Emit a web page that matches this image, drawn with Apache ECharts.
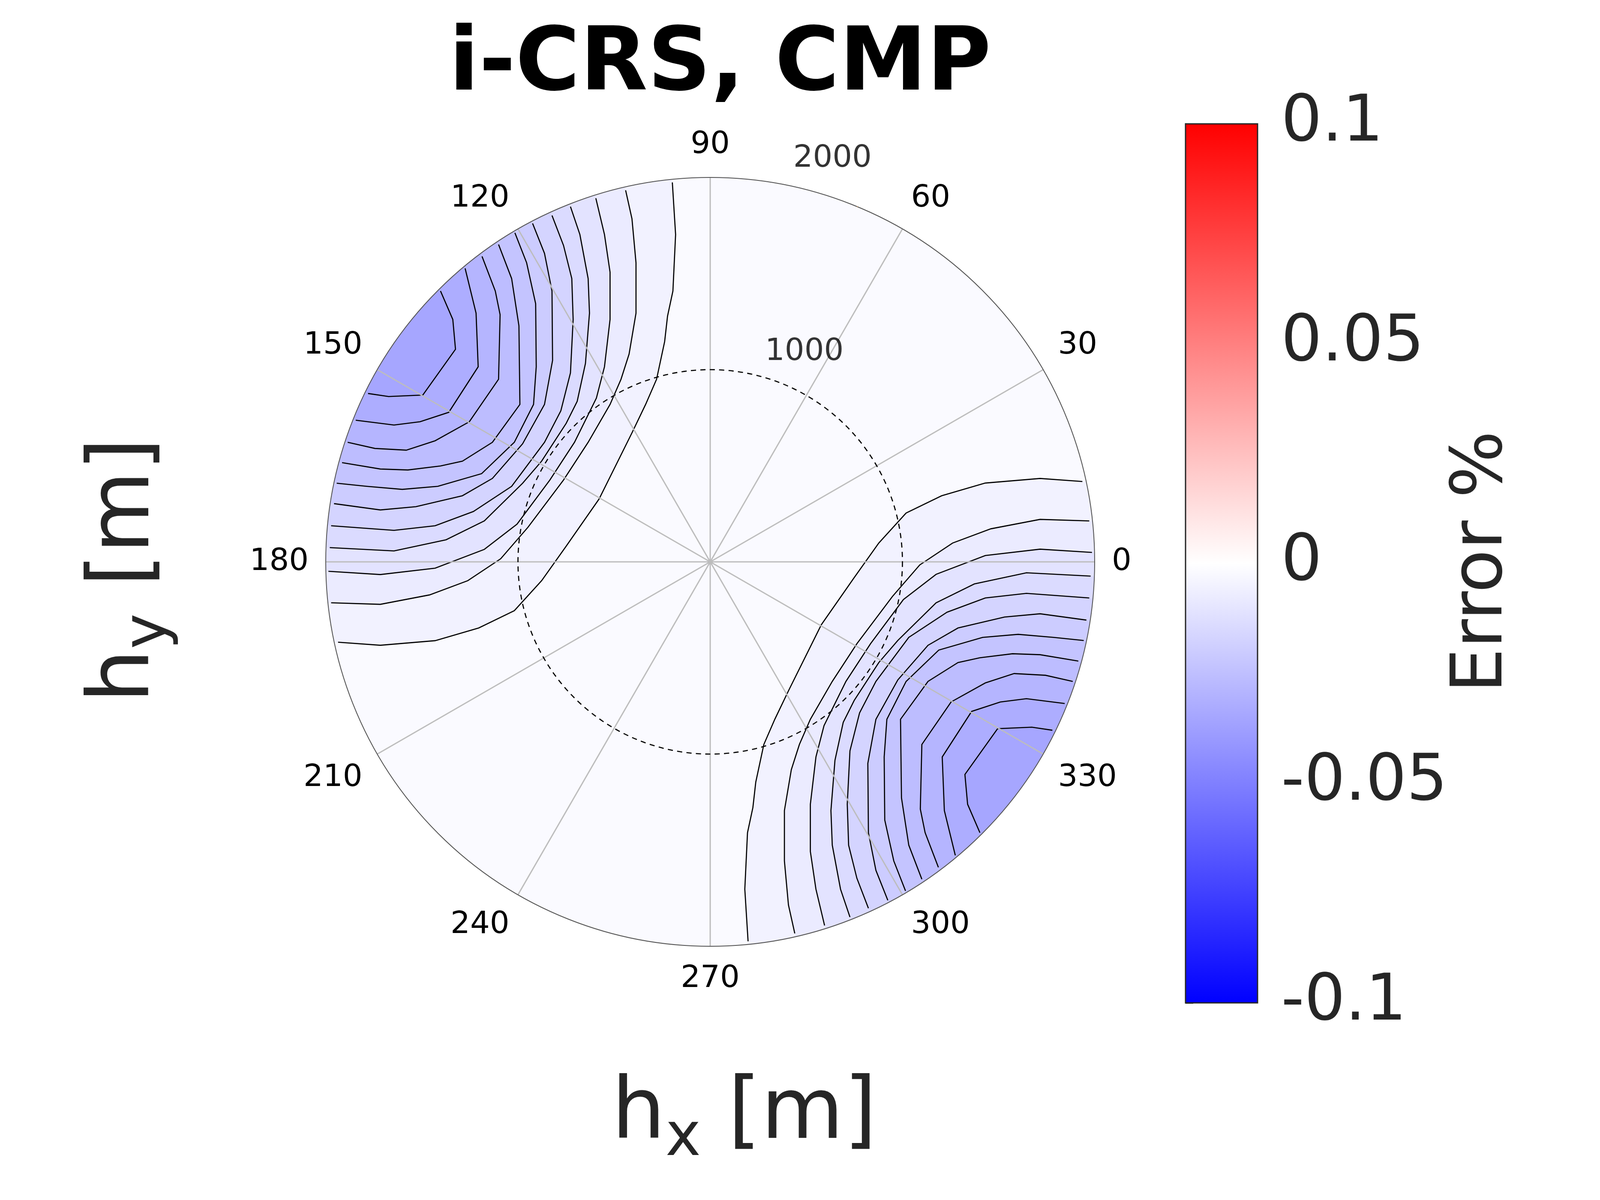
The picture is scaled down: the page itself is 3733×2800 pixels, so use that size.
<!DOCTYPE html>
<html><head><meta charset="utf-8">
<script src="https://cdn.jsdelivr.net/npm/echarts@6/dist/echarts.min.js"></script>
<style>html,body{margin:0;padding:0;background:#fff}#c{width:3733px;height:2800px}</style>
</head><body><div id="c"></div>
<script>
// Contour levels (Error %) for contours C1 (innermost) .. C11 (outermost)
const contourLevels = [-0.033,-0.030,-0.027,-0.024,-0.021,-0.018,-0.015,-0.012,-0.009,-0.006,-0.003];
// Contour polylines of the upper-left lobe, [hx, hy] in metres (the lower-right lobe is its point reflection)
const contourC1 = [[-1403,1409],[-1339,1261],[-1325,1106],[-1495,868],[-1673,860],[-1780,876]];
const contourC2 = [[-1275,1527],[-1218,1294],[-1207,1015],[-1360,778],[-1509,729],[-1645,712],[-1844,737]];
const contourC3 = [[-1187,1589],[-1118,1409],[-1093,1286],[-1101,950],[-1253,729],[-1431,630],[-1581,581],[-1744,590],[-1886,622]];
const contourC4 = [[-1101,1651],[-1033,1474],[-995,1228],[-990,819],[-1133,622],[-1289,524],[-1403,499],[-1573,478],[-1716,483],[-1915,516]];
const contourC5 = [[-1016,1712],[-955,1556],[-908,1343],[-905,1015],[-919,819],[-1019,622],[-1189,459],[-1417,393],[-1602,377],[-1787,393],[-1943,409]];
const contourC6 = [[-924,1761],[-862,1605],[-823,1409],[-820,1048],[-862,819],[-976,614],[-1133,434],[-1289,344],[-1531,287],[-1716,270],[-1957,303]];
const contourC7 = [[-823,1802],[-763,1646],[-720,1474],[-713,1261],[-727,983],[-777,786],[-862,622],[-1033,393],[-1232,262],[-1431,188],[-1645,164],[-1972,188]];
const contourC8 = [[-727,1848],[-678,1703],[-635,1474],[-628,1294],[-649,1032],[-692,835],[-749,721],[-877,524],[-976,409],[-1175,213],[-1374,115],[-1645,57],[-1979,74]];
const contourC9 = [[-595,1892],[-550,1703],[-521,1507],[-521,1261],[-550,1015],[-592,852],[-706,622],[-834,426],[-1005,196],[-1175,65],[-1431,-33],[-1716,-66],[-1986,-49]];
const contourC10 = [[-440,1933],[-407,1785],[-386,1556],[-386,1294],[-422,1081],[-464,950],[-521,819],[-635,622],[-763,426],[-948,180],[-1090,16],[-1261,-98],[-1460,-172],[-1716,-221],[-1972,-213]];
const contourC11 = [[-197,1974],[-180,1703],[-194,1409],[-222,1278],[-237,1146],[-279,950],[-336,819],[-407,671],[-578,327],[-749,82],[-877,-98],[-1019,-254],[-1204,-344],[-1431,-410],[-1716,-434],[-1936,-418]];
const contours = [contourC1,contourC2,contourC3,contourC4,contourC5,contourC6,contourC7,contourC8,contourC9,contourC10,contourC11];
const lobeSigns = [1,-1];
const angleTicks = [0,30,60,90,120,150,180,210,240,270,300,330];
const radiusTickValues = [1000,2000];
const dashedRadius = 1000;
const maxRadius = 2000;
const colorbarTicks = [-0.1,-0.05,0,0.05,0.1];

function bwr(v){
  const t = Math.max(-1,Math.min(1,v/0.1));
  let r,g,b;
  if(t<0){r=g=Math.round(255*(1+t));b=255;}else{r=255;g=b=Math.round(255*(1-t));}
  return 'rgb('+r+','+g+','+b+')';
}
const colorShift = -0.002;

const CX=1657, CY=1311, R=897;
const chart = echarts.init(document.getElementById('c'));

const fillData = [];
lobeSigns.forEach(s=>{ for(let k=contours.length-1;k>=0;k--) fillData.push([k,s]); });

function renderFill(params, api){
  const k=api.value(0), s=api.value(1);
  const pts = contours[k].map(p=>[s*p[0], s*p[1]]);
  const first=pts[0], last=pts[pts.length-1];
  const a0=Math.atan2(last[1],last[0]);
  let d=Math.atan2(first[1],first[0])-a0;
  while(d>Math.PI) d-=2*Math.PI; while(d<=-Math.PI) d+=2*Math.PI;
  const poly = pts.map(p=>api.coord(p));
  const n=60;
  for(let i=0;i<=n;i++){const a=a0+d*i/n; poly.push(api.coord([maxRadius*Math.cos(a), maxRadius*Math.sin(a)]));}
  const line = pts.map(p=>api.coord(p));
  return {type:'group', children:[
    {type:'polygon', shape:{points:poly}, style:{fill:bwr(contourLevels[k]+colorShift), stroke:null}},
    {type:'polyline', shape:{points:line}, style:{stroke:'#000', lineWidth:2.6, fill:null}}
  ]};
}

const option = {
  backgroundColor:'#fff',
  animation:false,
  title:[{text:'i-CRS, CMP', left:1675, top:48, textAlign:'center',
    textStyle:{fontFamily:'DejaVu Sans', fontWeight:'bold', fontSize:205, color:'#000'}}],
  grid:[{left:CX-R, top:CY-R, width:2*R, height:2*R},
        {left:2766, top:289, width:168, height:2051}],
  xAxis:[{type:'value', min:-maxRadius, max:maxRadius, show:false, gridIndex:0},
         {type:'value', min:0, max:1, show:false, gridIndex:1}],
  yAxis:[{type:'value', min:-maxRadius, max:maxRadius, show:false, gridIndex:0},
         {type:'value', min:-0.1, max:0.1, interval:0.05, gridIndex:1, position:'right',
          axisLine:{show:true, lineStyle:{color:'#262626', width:3}},
          axisTick:{show:true, length:18, lineStyle:{color:'#262626', width:3}},
          splitLine:{show:false},
          axisLabel:{fontFamily:'DejaVu Sans', fontSize:150, color:'#262626', margin:55,
            formatter:v=>String(Math.round(v*100)/100)}}],
  polar:{center:[CX,CY], radius:R},
  angleAxis:{type:'value', min:0, max:360, interval:30, startAngle:0, clockwise:false, z:5,
    axisLine:{show:true, lineStyle:{color:'#555', width:2}},
    axisTick:{show:false},
    axisLabel:{fontFamily:'DejaVu Sans', fontSize:72, color:'#000', margin:40,
      formatter:v=>(angleTicks.indexOf(v)>=0?String(v):'')},
    splitLine:{show:true, lineStyle:{color:'#bdbdbd', width:3}}},
  radiusAxis:{min:0, max:maxRadius, axisLine:{show:false}, axisLabel:{show:false}, axisTick:{show:false}, splitLine:{show:false}},
  series:[
    {type:'custom', xAxisIndex:0, yAxisIndex:0, z:1, data:[[0]], clip:false,
      renderItem:(p,api)=>{const c=api.coord([0,0]); const r=api.coord([maxRadius,0])[0]-c[0];
        return {type:'circle', shape:{cx:c[0],cy:c[1],r:r}, style:{fill:bwr(colorShift)}};}},
    {type:'custom', xAxisIndex:0, yAxisIndex:0, z:2, data:fillData, clip:false, renderItem:renderFill},
    {type:'custom', xAxisIndex:0, yAxisIndex:0, z:8, data:[[dashedRadius]], clip:false,
      renderItem:(p,api)=>{const c=api.coord([0,0]); const r=api.coord([api.value(0),0])[0]-c[0];
        return {type:'circle', shape:{cx:c[0],cy:c[1],r:r}, style:{fill:null, stroke:'#000', lineWidth:2.6, lineDash:[12,10]}};}},
    {type:'scatter', coordinateSystem:'polar', symbolSize:0, z:9,
      data:[{value:[radiusTickValues[0],67.5], label:{offset:[48,-75]}},
            {value:[radiusTickValues[1],67.5], label:{offset:[-58,-112]}}],
      label:{show:true, position:'inside', formatter:p=>String(p.value[0]),
        fontFamily:'DejaVu Sans', fontSize:72, color:'#000'}},
    {type:'custom', xAxisIndex:1, yAxisIndex:1, data:[[0]], z:3,
      renderItem:(p,api)=>{const a=api.coord([0,0.1]); const b=api.coord([1,-0.1]);
        return {type:'rect', shape:{x:a[0], y:a[1], width:b[0]-a[0], height:b[1]-a[1]},
          style:{stroke:'#262626', lineWidth:3, fill:new echarts.graphic.LinearGradient(0,0,0,1,
            [{offset:0,color:'#ff0000'},{offset:0.5,color:'#ffffff'},{offset:1,color:'#0000ff'}])}};}}
  ],
  graphic:[
    {type:'text', left:CX-230, top:2505, style:{text:'{a|h}{s|x}{a| [m]}', rich:{
      a:{fontFamily:'DejaVu Sans', fontSize:198, fill:'#262626'},
      s:{fontFamily:'DejaVu Sans', fontSize:140, fill:'#262626', padding:[110,0,0,0]}}}},
    {type:'text', x:170, y:1640, rotation:Math.PI/2, style:{text:'{a|h}{s|y}{a| [m]}', rich:{
      a:{fontFamily:'DejaVu Sans', fontSize:198, fill:'#262626'},
      s:{fontFamily:'DejaVu Sans', fontSize:140, fill:'#262626', padding:[110,0,0,0]}}}},
    {type:'text', x:3460, y:1311, rotation:Math.PI/2, style:{text:'Error %', fontFamily:'DejaVu Sans', fontSize:165, fill:'#262626', align:'center', verticalAlign:'middle'}}
  ]
};
chart.setOption(option);
</script></body></html>
